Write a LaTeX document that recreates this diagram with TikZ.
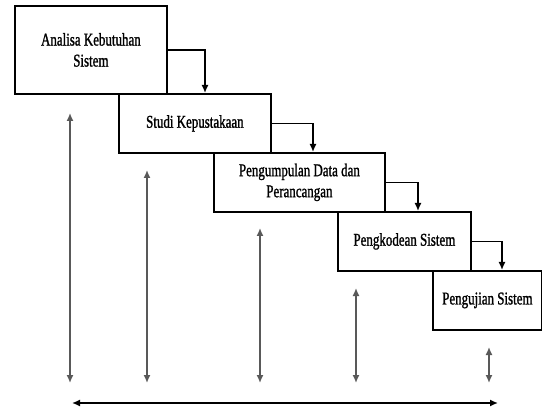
\documentclass[tikz,border=0pt]{standalone}
\usepackage{fontspec}
\setmainfont[FakeStretch=0.72,FakeBold=1.2]{Liberation Serif}
\usetikzlibrary{arrows.meta,calc}
\tikzset{
  phase/.style={draw, line width=1.8pt, anchor=north west, align=center,
    inner sep=0pt, font=\fontsize{18}{21}\selectfont},
  flow/.style={line width=1.5pt, -{Latex[length=8pt,width=7pt]}},
  span/.style={line width=1.5pt, gray!70!black, {Latex[length=8pt,width=7pt]}-{Latex[length=8pt,width=7pt]}}
}
\begin{document}
\begin{tikzpicture}[x=1pt,y=-1pt]
    \useasboundingbox (0,0) rectangle (542,412);
    % tahapan
    \node[phase, minimum width=152pt, minimum height=88pt] (analisa) at (14,5) {Analisa Kebutuhan\\Sistem};
    \node[phase, minimum width=152pt, minimum height=59pt] (studi) at (118,93) {Studi Kepustakaan};
    \node[phase, minimum width=171pt, minimum height=59pt] (data) at (213,152) {Pengumpulan Data dan\\Perancangan};
    \node[phase, minimum width=133pt, minimum height=59pt] (kode) at (337,211) {Pengkodean Sistem};
    \node[phase, minimum width=109pt, minimum height=59pt] (uji) at (432,270) {Pengujian Sistem};
    % aliran antar tahap
    \draw[flow] (analisa.east) -| ($(studi.north west)+(87,0)$);
    \draw[flow] (studi.east) -| ($(data.north west)+(100,0)$);
    \draw[flow] (data.east) -| ($(kode.north west)+(81,0)$);
    \draw[flow] (kode.east) -| ($(uji.north west)+(70,0)$);
    % panah umpan balik
    \coordinate (a1) at (70,113);  \coordinate (b1) at (70,383);
    \coordinate (a2) at (147,170); \coordinate (b2) at (147,383);
    \coordinate (a3) at (260,228); \coordinate (b3) at (260,383);
    \coordinate (a4) at (356,288); \coordinate (b4) at (356,383);
    \coordinate (a5) at (489,347); \coordinate (b5) at (489,383);
    \foreach \i in {1,...,5}
      \draw[span] (a\i) -- (b\i);
    \coordinate (kiri) at (72,403); \coordinate (kanan) at (498,403);
    \draw[span, black] (kiri) -- (kanan);
  \end{tikzpicture}
\end{document}
